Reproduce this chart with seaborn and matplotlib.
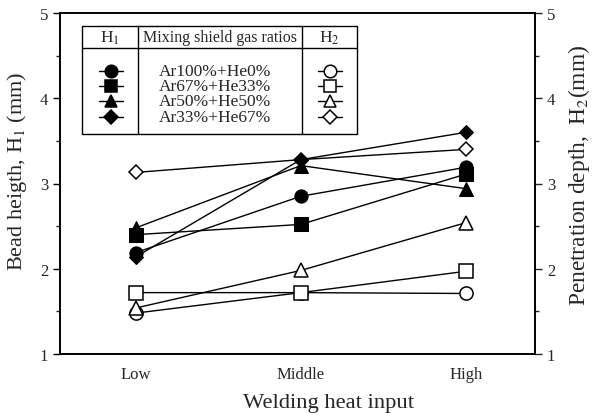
import matplotlib
matplotlib.use("Agg")
import matplotlib.pyplot as plt
import seaborn as sns
import pandas as pd
from matplotlib.lines import Line2D

categories = ["Low", "Middle", "High"]
gas_labels = ["Ar100%+He0%", "Ar67%+He33%", "Ar50%+He50%", "Ar33%+He67%"]
h1_ar100 = [2.19, 2.85, 3.19]
h1_ar67 = [2.40, 2.52, 3.11]
h1_ar50 = [2.48, 3.21, 2.94]
h1_ar33 = [2.14, 3.28, 3.60]
h2_ar100 = [1.48, 1.72, 1.71]
h2_ar67 = [1.72, 1.72, 1.97]
h2_ar50 = [1.54, 1.98, 2.54]
h2_ar33 = [3.13, 3.28, 3.40]
y_ticks = [1, 2, 3, 4, 5]

markers = ["o", "s", "^", "D"]
msizes = [9.5, 9.5, 9.5, 7]

sns.set_style("white")
plt.rcParams["font.family"] = ["Liberation Serif", "DejaVu Serif"]
plt.rcParams["mathtext.fontset"] = "stix"

W, H = 592, 414
fig = plt.figure(figsize=(W / 100, H / 100), dpi=100)
ax = fig.add_axes([60 / W, 1 - 355 / H, (535 - 60) / W, (355 - 14) / H])
ax2 = ax.twinx()

xpos = list(range(len(categories)))
h1 = [h1_ar100, h1_ar67, h1_ar50, h1_ar33]
h2 = [h2_ar100, h2_ar67, h2_ar50, h2_ar33]

for vals, m, ms in zip(h1, markers, msizes):
    df = pd.DataFrame({"x": xpos, "y": vals})
    sns.lineplot(data=df, x="x", y="y", ax=ax, color="black", lw=1.0,
                 marker=m, markersize=ms, markerfacecolor="black",
                 markeredgecolor="black", legend=False)
for vals, m, ms in zip(h2, markers, msizes):
    df = pd.DataFrame({"x": xpos, "y": vals})
    sns.lineplot(data=df, x="x", y="y", ax=ax2, color="black", lw=1.0,
                 marker=m, markersize=ms, markerfacecolor="white",
                 markeredgecolor="black", markeredgewidth=1.1, legend=False)

for a in (ax, ax2):
    a.set_xlim(-0.46, 2.42)
    a.set_ylim(1, 5)
    a.set_yticks(y_ticks)
    a.set_yticks([1.5, 2.5, 3.5, 4.5], minor=True)
    for s in a.spines.values():
        s.set_visible(True)
        s.set_color("black")
        s.set_linewidth(1.2)
ax.set_xticks(xpos)
ax.set_xticklabels(categories, fontsize=12)
ax.set_yticklabels([str(v) for v in y_ticks], fontsize=12)
ax2.set_yticklabels([str(v) for v in y_ticks], fontsize=12)
ax.tick_params(axis="both", which="major", direction="out", length=5, width=1, color="black")
ax.tick_params(axis="y", which="minor", direction="out", length=3, width=1, left=True)
ax2.tick_params(axis="y", which="major", direction="out", length=5, width=1, right=True)
ax2.tick_params(axis="y", which="minor", direction="out", length=3, width=1, right=True)
ax.set_xlabel("Welding heat input", fontsize=16.2)
ax.set_ylabel("Bead heigth, H$_1$ (mm)", fontsize=16)
ax2.set_ylabel("Penetration depth,  H$_2$(mm)", fontsize=16.8, rotation=90)
ax.xaxis.set_label_coords((329 - 60) / 475, -0.115)
ax.yaxis.set_label_coords((29 - 60) / 475, (355 - 171) / 341)
ax2.yaxis.set_label_coords((566 - 60) / 475, (355 - 175) / 341)
ax.set_zorder(ax2.get_zorder() + 1)
ax.patch.set_visible(False)

# table-style legend in figure pixel coordinates
def fx(x):
    return x / W

def fy(y):
    return 1 - y / H

L, R, T, B = 82, 357, 27, 135
hdr, c1, c2 = 49, 138, 302
lk = dict(transform=fig.transFigure, color="black", lw=1.0)
fig.add_artist(plt.Rectangle((fx(L), fy(B)), fx(R) - fx(L), fy(T) - fy(B),
                             transform=fig.transFigure, facecolor="white",
                             edgecolor="black", lw=1.0, zorder=5))
fig.add_artist(Line2D([fx(L), fx(R)], [fy(hdr), fy(hdr)], zorder=6, **lk))
fig.add_artist(Line2D([fx(c1), fx(c1)], [fy(T), fy(B)], zorder=6, **lk))
fig.add_artist(Line2D([fx(c2), fx(c2)], [fy(T), fy(B)], zorder=6, **lk))
fig.text(fx((L + c1) / 2), fy((T + hdr) / 2), "H$_1$", ha="center", va="center", fontsize=12.5, zorder=7)
fig.text(fx((c1 + c2) / 2), fy((T + hdr) / 2), "Mixing shield gas ratios", ha="center", va="center", fontsize=11.5, zorder=7)
fig.text(fx((c2 + R) / 2), fy((T + hdr) / 2), "H$_2$", ha="center", va="center", fontsize=12.5, zorder=7)
rows = [72, 87, 102, 118]
for ry, lab, m, ms in zip(rows, gas_labels, markers, msizes):
    for cx, fc in ((111, "black"), (330, "white")):
        fig.add_artist(Line2D([fx(cx - 12), fx(cx + 12)], [fy(ry), fy(ry)],
                              transform=fig.transFigure, color="black", lw=1.0, zorder=6))
        fig.add_artist(Line2D([fx(cx)], [fy(ry)], transform=fig.transFigure,
                              color="black", lw=0, marker=m, markersize=ms * 0.95,
                              markerfacecolor=fc, markeredgecolor="black",
                              markeredgewidth=1.1, zorder=7))
    fig.text(fx(215), fy(ry), lab, ha="center", va="center", fontsize=12.5, zorder=7)

fig.savefig("out.png", dpi=100)
